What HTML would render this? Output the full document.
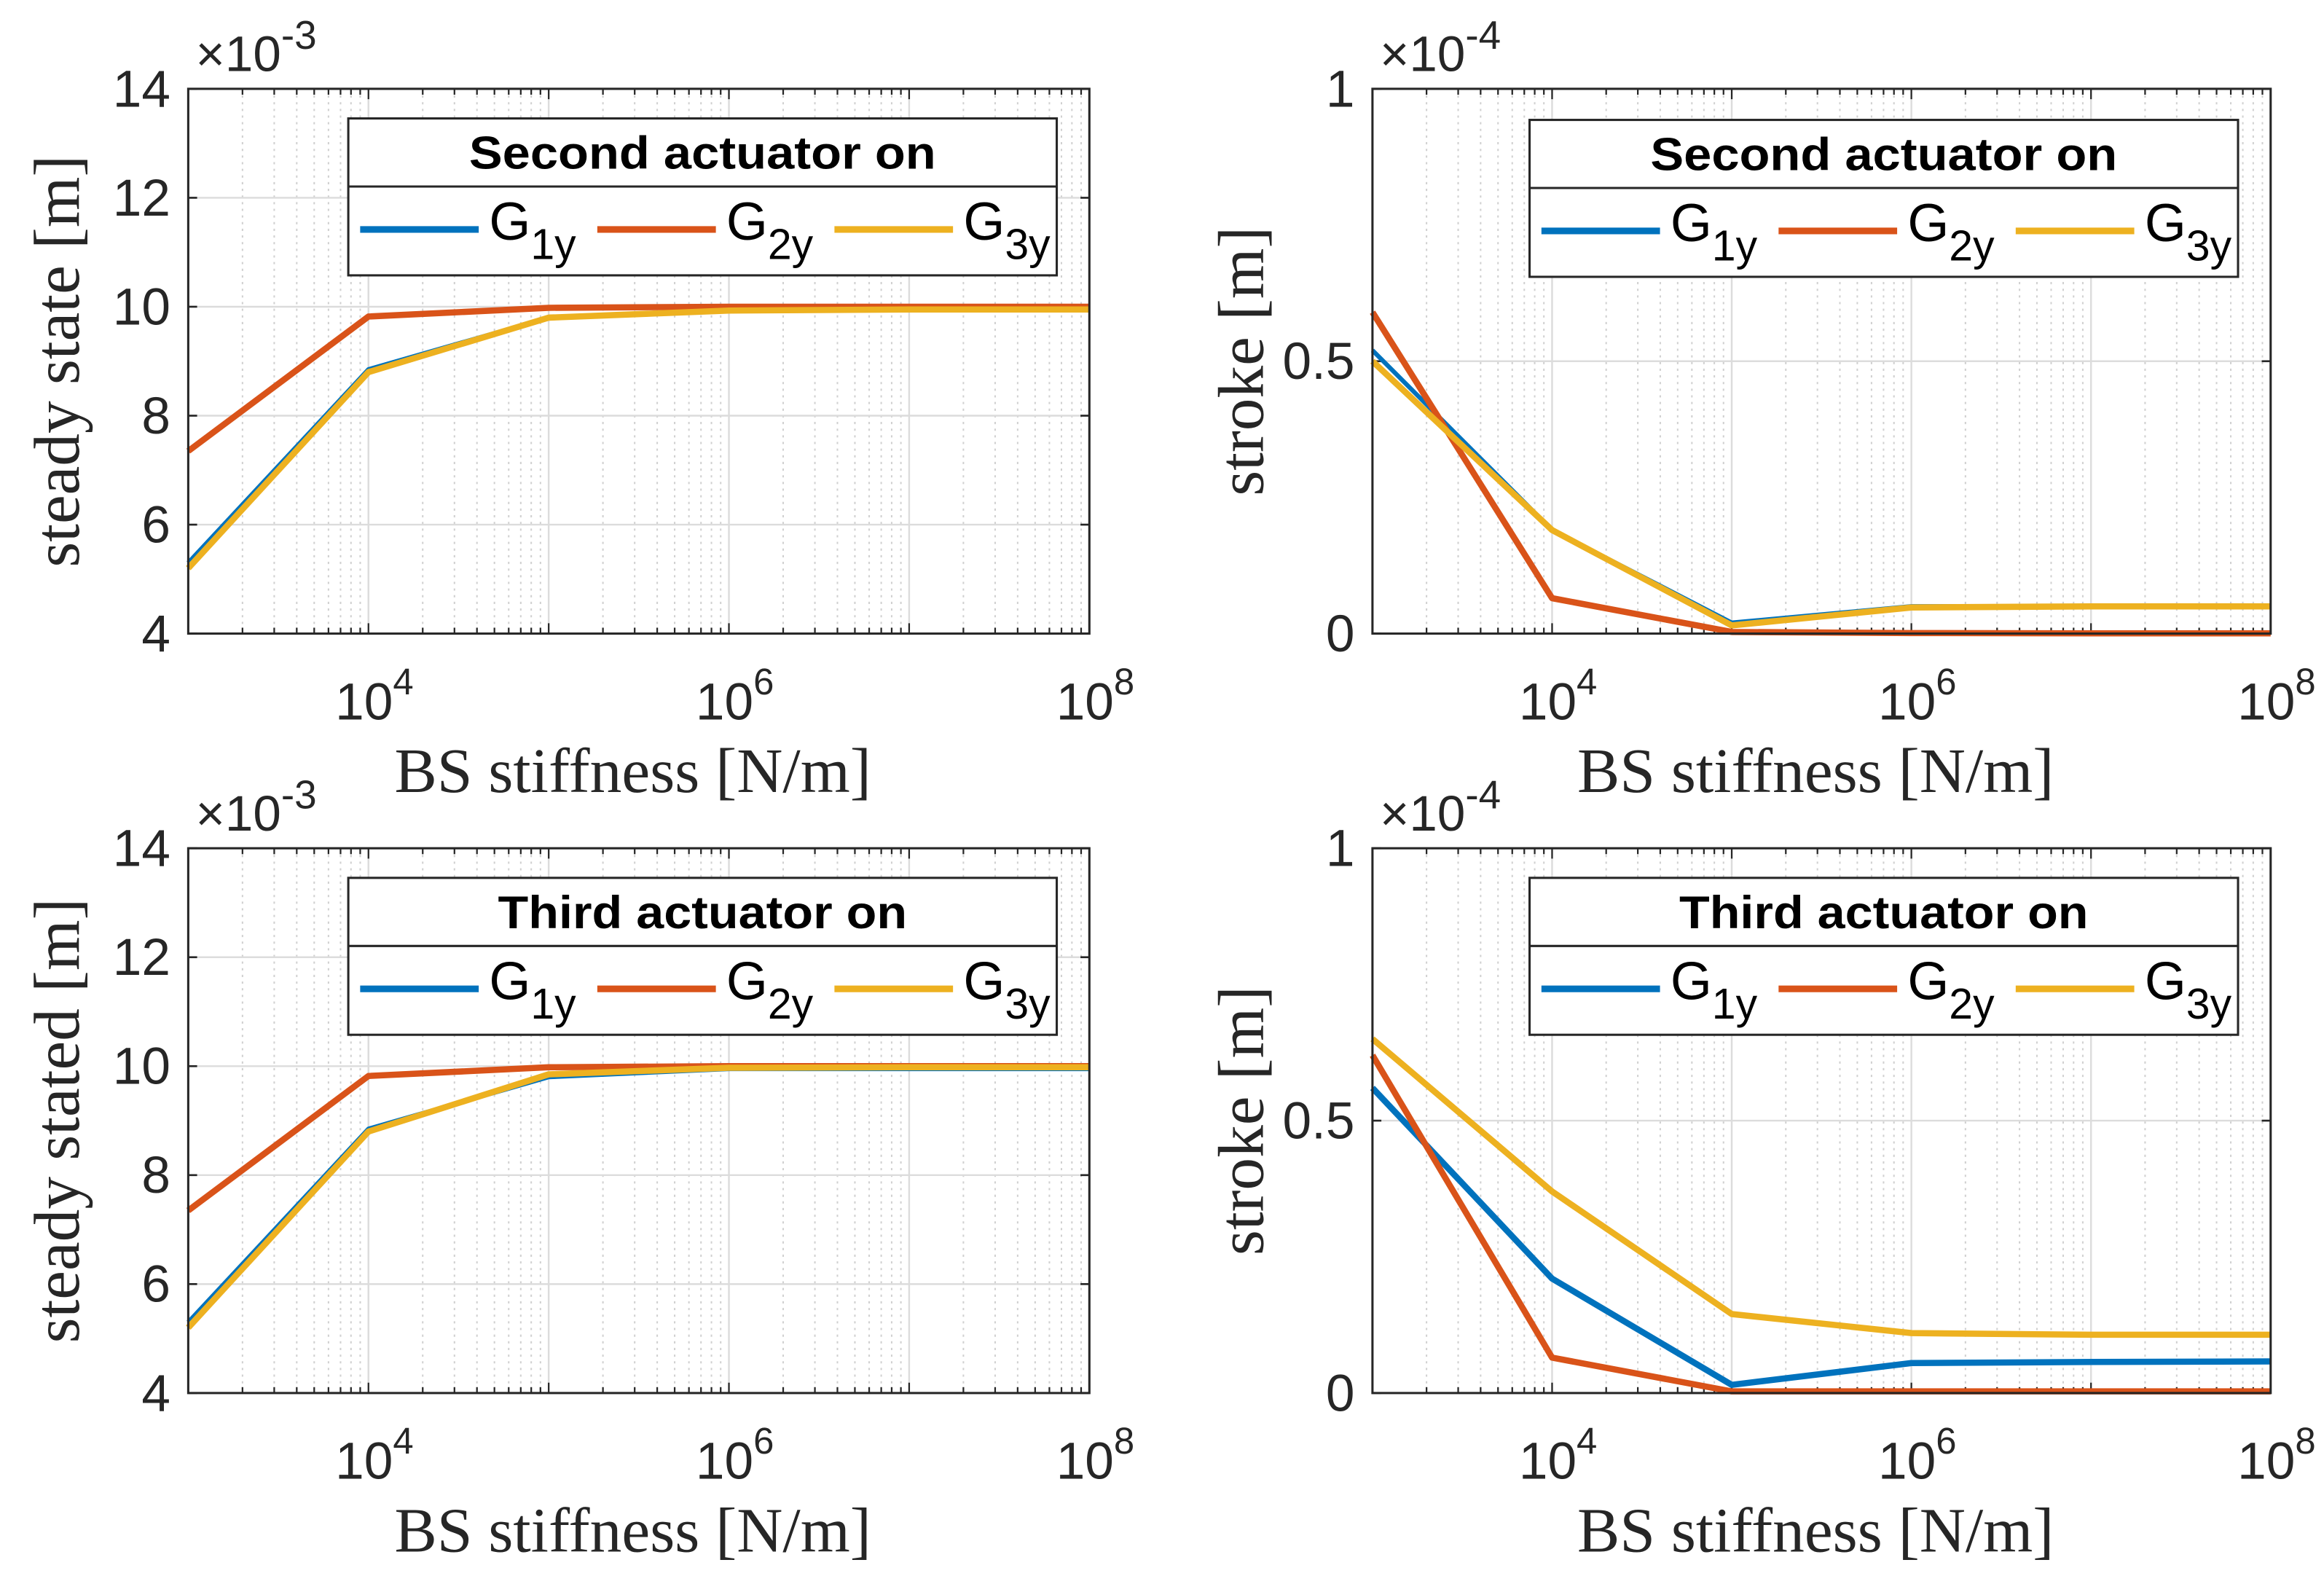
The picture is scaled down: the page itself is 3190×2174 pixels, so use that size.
<!DOCTYPE html>
<html><head><meta charset="utf-8"><style>
html,body{margin:0;padding:0;background:#fff;}
svg{display:block;}
</style></head><body>
<svg id="fig" width="3190" height="2174" viewBox="0 0 1568 1070" preserveAspectRatio="none" xmlns="http://www.w3.org/2000/svg"></svg>
<script>
const xExp = [3,4,5,6,7,8];
const tlG1 = [5.3,8.85,9.8,9.95,9.97,9.97];
const tlG2 = [7.35,9.82,9.98,10,10,10];
const tlG3 = [5.2,8.8,9.8,9.93,9.95,9.95];
const trG1 = [0.52,0.19,0.02,0.05,0.05,0.05];
const trG2 = [0.59,0.065,0.003,0.001,0.0005,0.0005];
const trG3 = [0.50,0.19,0.015,0.048,0.05,0.05];
const blG1 = [5.3,8.85,9.8,9.95,9.95,9.95];
const blG2 = [7.35,9.82,9.98,10,10,10];
const blG3 = [5.2,8.8,9.85,9.97,9.98,9.98];
const brG1 = [0.56,0.21,0.015,0.055,0.057,0.058];
const brG2 = [0.62,0.065,0.003,0.003,0.003,0.003];
const brG3 = [0.65,0.37,0.145,0.11,0.107,0.107];
const ssTicks = [4,6,8,10,12,14];
const stTicks = [0,0.5,1];
const stTickLabels = ['0','0.5','1'];
const xTickExps = [4,6,8];
const colors = ['#0072BD','#D95319','#EDB120'];
const seriesNames = ['1y','2y','3y'];

const NS='http://www.w3.org/2000/svg';
const svg=document.getElementById('fig');
function mk(tag,attrs,parent){const e=document.createElementNS(NS,tag);for(const k in attrs)e.setAttribute(k,attrs[k]);(parent||svg).appendChild(e);return e;}
const SANS='"Liberation Sans",sans-serif';

function panel(p){
  const g=mk('g',{});
  
  
  const L=p.x0,R=p.x1,T=p.y0,B=p.y1;
  const xs=v=>L+(v-3)/5*(R-L);
  const ys=v=>B-(v-p.ymin)/(p.ymax-p.ymin)*(B-T);
  for(let d=3;d<8;d++)for(let m=2;m<=9;m++){
    const x=xs(d+Math.log10(m));
    const ln=mk('line',{x1:x,x2:x,y1:T,y2:B,stroke:'#d0d0d0','stroke-width':1,'stroke-dasharray':'1.5 3'},g);
    
    
  }
  for(let d=4;d<8;d++){
    const x=xs(d);
    const ln=mk('line',{x1:x,x2:x,y1:T,y2:B,stroke:'#dcdcdc','stroke-width':1.2},g);
    
    
  }
  p.yt.forEach((v,i)=>{
    const y=ys(v);
    if(y>T+1&&y<B-1){const ln=mk('line',{x1:L,x2:R,y1:y,y2:y,stroke:'#dcdcdc','stroke-width':1.2},g);
    
    }
    mk('line',{x1:L,x2:L+6,y1:y,y2:y,stroke:'#262626','stroke-width':1.3},g);
    mk('line',{x1:R,x2:R-6,y1:y,y2:y,stroke:'#262626','stroke-width':1.3},g);
    const t=mk('text',{x:L-12,y:y+12,'text-anchor':'end','font-family':SANS,'font-size':35,fill:'#262626'},g);
    t.textContent=p.ytl[i];
    
    
  });
  for(let d=3;d<=8;d++)for(let m=1;m<=9;m++){
    const x=xs(d+Math.log10(m)); if(x>R+0.5)continue;
    const len=m===1?7:4;
    mk('line',{x1:x,x2:x,y1:B,y2:B-len,stroke:'#262626','stroke-width':1.1},g);
    mk('line',{x1:x,x2:x,y1:T,y2:T+len,stroke:'#262626','stroke-width':1.1},g);
  }
  xTickExps.forEach(e=>{
    const x=xs(e);
    const t=mk('text',{x:x+4,y:B+58,'text-anchor':'middle','font-family':SANS,'font-size':35,fill:'#262626'},g);
    t.innerHTML='10<tspan dy="-17" font-size="25">'+e+'</tspan>';
    
    
  });
  p.series.forEach((s,i)=>{
    const pts=xExp.map((e,j)=>xs(e)+','+ys(s[j])).join(' ');
    const pl=mk('polyline',{points:pts,fill:'none',stroke:colors[i],'stroke-width':i===0&&p.thinBlue?3:4.2,'stroke-linejoin':'round'},g);
    
    
  });
  mk('rect',{x:L,y:T,width:R-L,height:B-T,fill:'none',stroke:'#262626','stroke-width':1.5},g);
  const ex=mk('text',{x:L+5,y:T-12,'font-family':SANS,'font-size':34,fill:'#262626'},g);
  ex.innerHTML='×10<tspan dy="-15" font-size="27">'+p.exp+'</tspan>';
  
  
  const xl=mk('text',{x:(L+R)/2-4,y:B+107,'text-anchor':'middle','font-family':'"Liberation Serif",serif','font-size':43,fill:'#262626'},g);
  xl.textContent='BS stiffness [N/m]';
  
  
  const yl=mk('text',{x:0,y:0,'text-anchor':'middle','font-family':'"Liberation Serif",serif','font-size':44,fill:'#262626',transform:'translate('+(L-74)+','+((T+B)/2)+') rotate(-90)'},g);
  yl.textContent=p.ylabel;
  
  
  const lx=p.lx,ly=p.ly,lw=478,lh=106;
  const lg=mk('g',{},g);
  
  
  mk('rect',{x:lx,y:ly,width:lw,height:lh,fill:'#fff',stroke:'#262626','stroke-width':1.5},lg);
  mk('line',{x1:lx,x2:lx+lw,y1:ly+46,y2:ly+46,stroke:'#262626','stroke-width':1.5},lg);
  const tt=mk('text',{x:lx+lw/2,y:ly+34,'text-anchor':'middle','font-family':SANS,'font-weight':'bold','font-size':31,fill:'#000',textLength:p.titleLen,lengthAdjust:'spacingAndGlyphs'},lg);
  tt.textContent=p.title;
  
  
  for(let i=0;i<3;i++){
    const ex0=lx+8+i*160;
    const ln=mk('line',{x1:ex0,x2:ex0+80,y1:ly+75,y2:ly+75,stroke:colors[i],'stroke-width':4.5},lg);
    
    
    const t=mk('text',{x:ex0+87,y:ly+82,'font-family':SANS,'font-size':36,fill:'#000'},lg);
    t.innerHTML='G<tspan dy="13" font-size="29">'+seriesNames[i]+'</tspan>';
    
    
  }
}
const ssL=stTickLabels;
panel({name:'panel-top-left',x0:127,x1:735,y0:60,y1:428,ymin:4,ymax:14,yt:ssTicks,ytl:ssTicks.map(String),exp:'-3',ylabel:'steady state [m]',series:[tlG1,tlG2,tlG3],lx:235,ly:80,title:'Second actuator on',titleLen:315,thinBlue:true});
panel({name:'panel-top-right',x0:926,x1:1532,y0:60,y1:428,ymin:0,ymax:1,yt:stTicks,ytl:ssL,exp:'-4',ylabel:'stroke [m]',series:[trG1,trG2,trG3],lx:1032,ly:81,title:'Second actuator on',titleLen:315,thinBlue:true});
panel({name:'panel-bottom-left',x0:127,x1:735,y0:573,y1:941,ymin:4,ymax:14,yt:ssTicks,ytl:ssTicks.map(String),exp:'-3',ylabel:'steady stated [m]',series:[blG1,blG2,blG3],lx:235,ly:593,title:'Third actuator on',titleLen:276,thinBlue:true});
panel({name:'panel-bottom-right',x0:926,x1:1532,y0:573,y1:941,ymin:0,ymax:1,yt:stTicks,ytl:ssL,exp:'-4',ylabel:'stroke [m]',series:[brG1,brG2,brG3],lx:1032,ly:593,title:'Third actuator on',titleLen:276,thinBlue:false});
</script>
</body></html>
